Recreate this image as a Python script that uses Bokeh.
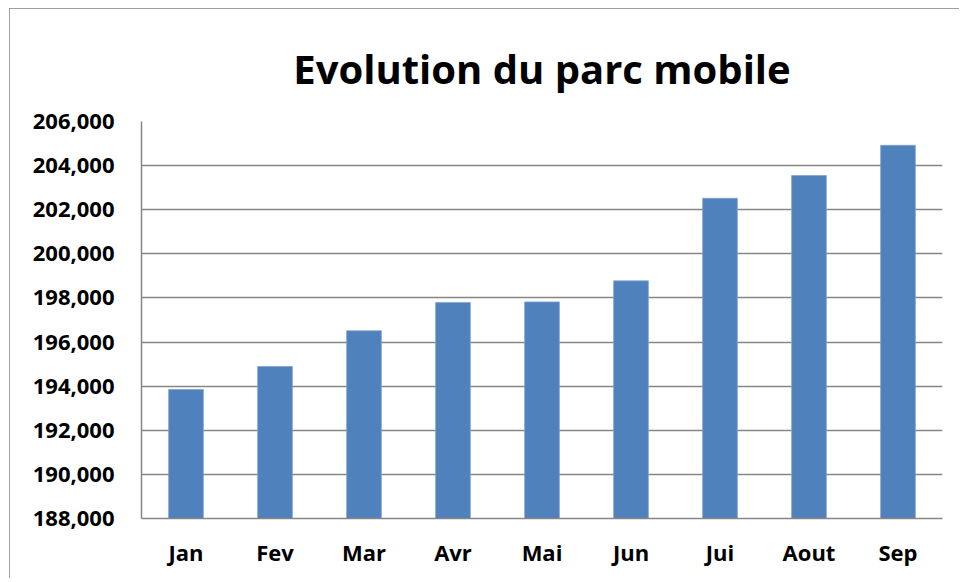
from bokeh.plotting import figure
from bokeh.models import ColumnDataSource, FixedTicker, NumeralTickFormatter, Range1d
from bokeh.embed import file_html
from bokeh.resources import INLINE

months = ["Jan", "Fev", "Mar", "Avr", "Mai", "Jun", "Jui", "Aout", "Sep"]
parc = [193850, 194890, 196510, 197790, 197820, 198775, 202520, 203550, 204920]
y_ticks = [188000, 190000, 192000, 194000, 196000, 198000, 200000, 202000, 204000, 206000]

FONT = "Open Sans"

source = ColumnDataSource(data=dict(month=months, parc=parc))

p = figure(
    x_range=months,
    y_range=Range1d(188000, 206000),
    width=950, height=570,
    output_backend="svg",
    toolbar_location=None,
    title="Evolution du parc mobile",
    min_border_left=132, min_border_right=17, min_border_bottom=60, min_border_top=113,
)
p.margin = (8, 0, 0, 9)

p.vbar(x="month", top="parc", bottom=188000, width=0.39, source=source,
       fill_color="#4F81BD", line_color="#7FA3D1", line_width=0.8)

p.title.text_font = FONT
p.title.text_font_size = "40px"
p.title.text_font_style = "bold"
p.title.align = "center"
p.title.text_color = "black"
p.title.standoff = 52

p.outline_line_color = None
p.background_fill_color = "white"
p.border_fill_color = "white"

p.xgrid.grid_line_color = None
p.ygrid.grid_line_color = "#868686"
p.ygrid.grid_line_width = 1.5
p.ygrid.ticker = FixedTicker(ticks=y_ticks)

p.yaxis.ticker = FixedTicker(ticks=y_ticks)
p.yaxis.formatter = NumeralTickFormatter(format="0,0")

for ax in (p.xaxis[0], p.yaxis[0]):
    ax.axis_line_color = "#868686"
    ax.axis_line_width = 1.5
    ax.major_tick_line_color = None
    ax.minor_tick_line_color = None
    ax.major_tick_out = 0
    ax.major_tick_in = 0
    ax.major_label_text_font = FONT
    ax.major_label_text_font_style = "bold"
    ax.major_label_text_font_size = "22px"
    ax.major_label_text_color = "black"

p.yaxis.major_label_standoff = 27
p.xaxis.major_label_standoff = 18
p.x_range.range_padding = 0.0

p.styles = {"outline": "2px solid #808080", "outline-offset": "-2px"}

open("out.html", "w").write(file_html(p, INLINE))
